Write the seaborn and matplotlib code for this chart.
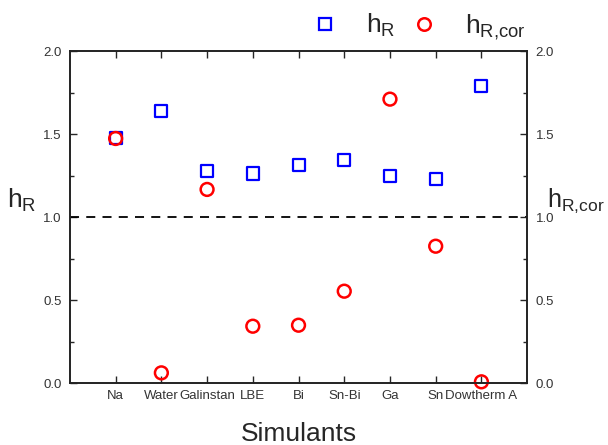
import matplotlib
matplotlib.use("Agg")
import matplotlib.pyplot as plt
from matplotlib.ticker import MultipleLocator
import pandas as pd
import seaborn as sns

# Datos
simulantes = ["Na", "Water", "Galinstan", "LBE", "Bi", "Sn-Bi", "Ga", "Sn", "Dowtherm A"]
h_r = [1.474, 1.637, 1.281, 1.263, 1.313, 1.343, 1.247, 1.229, 1.791]
h_r_cor = [1.474, 0.062, 1.167, 0.343, 0.349, 0.554, 1.711, 0.825, 0.008]

df = pd.DataFrame({"Simulants": simulantes, "hR": h_r, "hRcor": h_r_cor})

sns.set_style("ticks")
plt.rcParams["font.family"] = ["Liberation Sans", "DejaVu Sans"]
plt.rcParams["mathtext.fontset"] = "custom"
plt.rcParams["mathtext.rm"] = "Liberation Sans"

etiqueta_hr = r"$\mathregular{h_R}$"
etiqueta_hrcor = r"$\mathregular{h_{R{,}cor}}$"

fig = plt.figure(figsize=(6.08, 4.45), dpi=100)
ax = fig.add_axes([0.115, 0.139, 0.752, 0.746])

sns.scatterplot(data=df, x="Simulants", y="hR", ax=ax, marker="s", s=75,
                facecolor="none", edgecolor="#0000ff", linewidth=1.6, zorder=3)
sns.scatterplot(data=df, x="Simulants", y="hRcor", ax=ax, marker="o", s=85,
                facecolor="none", edgecolor="#ff0000", linewidth=1.8, zorder=4,
                clip_on=False)

ax.axhline(1.0, color="black", linestyle=(0, (5, 4)), linewidth=1.3)

ax.set_xlim(-1, len(simulantes))
ax.set_ylim(0, 2.0)
ax.yaxis.set_major_locator(MultipleLocator(0.5))
ax.yaxis.set_minor_locator(MultipleLocator(0.25))
ax.tick_params(axis="both", which="major", direction="in", length=5, width=1,
               labelsize=9.5, labelcolor="#333333", top=True)
ax.tick_params(axis="y", which="minor", direction="in", length=3, width=1)
ax.tick_params(axis="x", pad=5)
ax.tick_params(axis="y", pad=6)
ax.set_yticks([0, 0.5, 1.0, 1.5, 2.0])
ax.set_yticklabels(["0.0", "0.5", "1.0", "1.5", "2.0"])
for s in ax.spines.values():
    s.set_linewidth(1.2)
    s.set_color("#222222")

ax.set_xlabel("Simulants", fontsize=19, labelpad=14)
ax.set_ylabel(etiqueta_hr, fontsize=19, rotation=0, labelpad=0,
              ha="left", va="center")
ax.yaxis.set_label_coords(-0.138, 0.55)

ax2 = ax.twinx()
ax2.set_ylim(0, 2.0)
ax2.yaxis.set_major_locator(MultipleLocator(0.5))
ax2.yaxis.set_minor_locator(MultipleLocator(0.25))
ax2.set_yticks([0, 0.5, 1.0, 1.5, 2.0])
ax2.set_yticklabels(["0.0", "0.5", "1.0", "1.5", "2.0"])
ax2.tick_params(axis="y", which="major", direction="in", length=5, width=1,
                labelsize=9.5, labelcolor="#333333", pad=6)
ax2.tick_params(axis="y", which="minor", direction="in", length=3, width=1)
ax2.set_ylabel(etiqueta_hrcor, fontsize=18, rotation=0, ha="left", va="center")
ax2.yaxis.set_label_coords(1.043, 0.55)
for s in ax2.spines.values():
    s.set_linewidth(1.2)
    s.set_color("#222222")

# Leyenda arriba del grafico
h1 = plt.Line2D([], [], marker="s", linestyle="none", markersize=8.5,
                markerfacecolor="none", markeredgecolor="#0000ff", markeredgewidth=1.6)
h2 = plt.Line2D([], [], marker="o", linestyle="none", markersize=9,
                markerfacecolor="none", markeredgecolor="#ff0000", markeredgewidth=1.8)
fig.legend([h1, h2], [etiqueta_hr, etiqueta_hrcor],
           loc="center", bbox_to_anchor=(0.683, 0.94), ncol=2, frameon=False,
           fontsize=19, handletextpad=0.8, columnspacing=0.35, handlelength=1.5)

fig.savefig("out.png", dpi=100)
